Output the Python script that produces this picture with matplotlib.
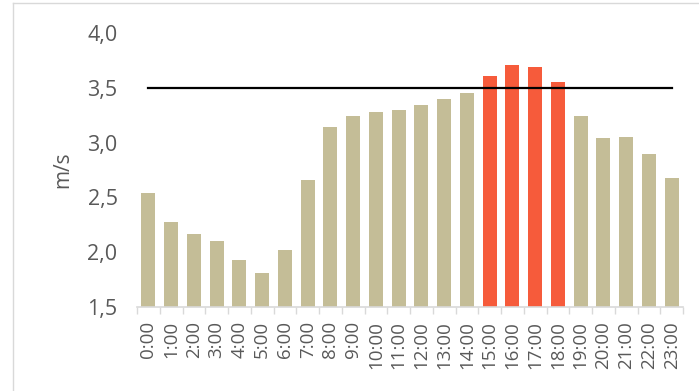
import matplotlib.pyplot as plt
from matplotlib.lines import Line2D
from matplotlib.ticker import FixedLocator, FuncFormatter

plt.rcParams['font.family'] = ['Open Sans', 'DejaVu Sans']

hours = [f'{h}:00' for h in range(24)]
speed = [2.54, 2.28, 2.17, 2.10, 1.93, 1.81, 2.02, 2.66, 3.14, 3.24, 3.28, 3.30,
         3.34, 3.40, 3.45, 3.61, 3.71, 3.69, 3.55, 3.24, 3.04, 3.05, 2.90, 2.68]
limit = [3.5] * 24

TAN = '#C4BD97'
RED = '#F65B3B'
GREY_TXT = '#595959'
GREY_LINE = '#D9D9D9'

fig = plt.figure(figsize=(6.99, 3.91), dpi=100)
ax = fig.add_axes([137 / 699, 84 / 391, 546 / 699, 274 / 391])

x = list(range(len(hours)))
colors = [RED if v > l else TAN for v, l in zip(speed, limit)]
ax.bar(x, [v - 1.5 for v in speed], bottom=1.5, width=0.62, color=colors, zorder=2)
ax.plot(x, limit, color='black', lw=1.6, zorder=3)

ax.set_xlim(-0.5, len(hours) - 0.5)
ax.set_ylim(1.5, 4.0)
ax.set_yticks([1.5, 2.0, 2.5, 3.0, 3.5, 4.0])
ax.yaxis.set_major_formatter(FuncFormatter(lambda v, p: f'{v:.1f}'.replace('.', ',')))
ax.set_xticks(x)
ax.set_xticklabels(hours, rotation=90)
ax.xaxis.set_minor_locator(FixedLocator([i - 0.5 for i in range(len(hours) + 1)]))

ax.tick_params(axis='x', which='major', length=0, pad=10, labelsize=13.5, colors=GREY_TXT)
ax.tick_params(axis='x', which='minor', length=5, width=1, color=GREY_LINE)
ax.tick_params(axis='y', length=0, pad=14, labelsize=15.5, colors=GREY_TXT)

for side in ['top', 'right', 'left']:
    ax.spines[side].set_visible(False)
ax.spines['bottom'].set_color(GREY_LINE)
ax.spines['bottom'].set_linewidth(1.2)

ax.set_ylabel('m/s', fontsize=15, color=GREY_TXT, labelpad=10)

# outer chart border (left and top visible in the crop)
fig.add_artist(Line2D([12.5 / 699, 12.5 / 699], [0, 1 - 2.5 / 391],
                      transform=fig.transFigure, color=GREY_LINE, lw=1))
fig.add_artist(Line2D([12.5 / 699, 1], [1 - 2.5 / 391, 1 - 2.5 / 391],
                      transform=fig.transFigure, color=GREY_LINE, lw=1))

fig.savefig('out.png', dpi=100)
